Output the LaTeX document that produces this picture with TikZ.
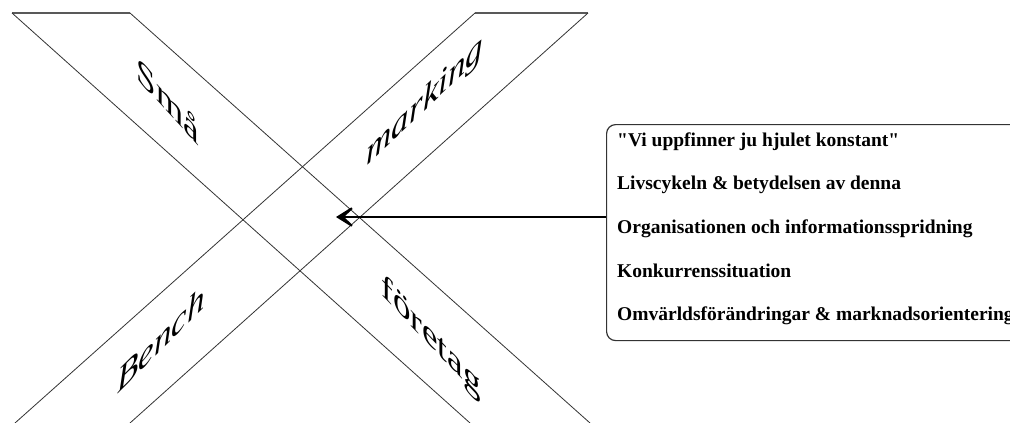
\documentclass[tikz,border=0pt]{standalone}
\usepackage{fontspec}
\setmainfont{Liberation Serif}[Ligatures=TeXOff]
\usetikzlibrary{arrows.meta}
\begin{document}
\begin{tikzpicture}[x=1pt,y=-1pt,
  band/.style={draw=black!80, line width=0.8pt},
  bandtop/.style={draw=black!65, line width=1.6pt},
  bigword/.style={inner sep=0pt, font=\fontsize{35}{35}\selectfont},
  item/.style={anchor=base west, inner sep=0pt, font=\fontsize{19.5}{20}\selectfont\bfseries},
  frame/.style={draw=black!80, line width=1.2pt, rounded corners=9pt},
  pointer/.style={draw=black, line width=2.8pt, -{Stealth[length=24pt,width=30pt,inset=16pt]}}
]
\useasboundingbox (0,0) rectangle (1010,423);
\clip (0,0) rectangle (1010,423);
\fill[white] (0,0) rectangle (1010,423);
% band endpoints
\coordinate (a1) at (12,13);   \coordinate (a2) at (470,423);
\coordinate (b1) at (130,13);  \coordinate (b2) at (590,423);
\coordinate (c1) at (475,13);  \coordinate (c2) at (15,423);
\coordinate (d1) at (588,13);  \coordinate (d2) at (130,423);
\draw[bandtop] (a1) -- (b1);
\draw[bandtop] (c1) -- (d1);
\draw[band] (a1) -- (a2);
\draw[band] (b1) -- (b2);
\draw[band] (c1) -- (c2);
\draw[band] (d1) -- (d2);
% words
\node[bigword, yslant=-1.1] (w1) at (168,100) {Små};
\node[bigword, yslant=0.96] (w2) at (425,102) {\itshape marking};
\node[bigword, yslant=1.0] (w3) at (161,339) {\itshape Bench};
\node[bigword, yslant=-1.05] (w4) at (431,338) {företag};
% box
\node[frame, minimum width=430pt, minimum height=216pt, anchor=north west] (box) at (606,124) {};
\node[item] (t1) at (617,146) {"Vi uppfinner ju hjulet konstant"};
\node[item] (t2) at (617,189.7) {Livscykeln \& betydelsen av denna};
\node[item] (t3) at (617,233.4) {Organisationen och informationsspridning};
\node[item] (t4) at (617,277.1) {Konkurrenssituation};
\node[item] (t5) at (617,320.8) {Omvärldsförändringar \& marknadsorientering};
% arrow
\coordinate (tip) at (336,217);
\draw[pointer] (box.west |- tip) -- (tip);
\end{tikzpicture}
\end{document}
